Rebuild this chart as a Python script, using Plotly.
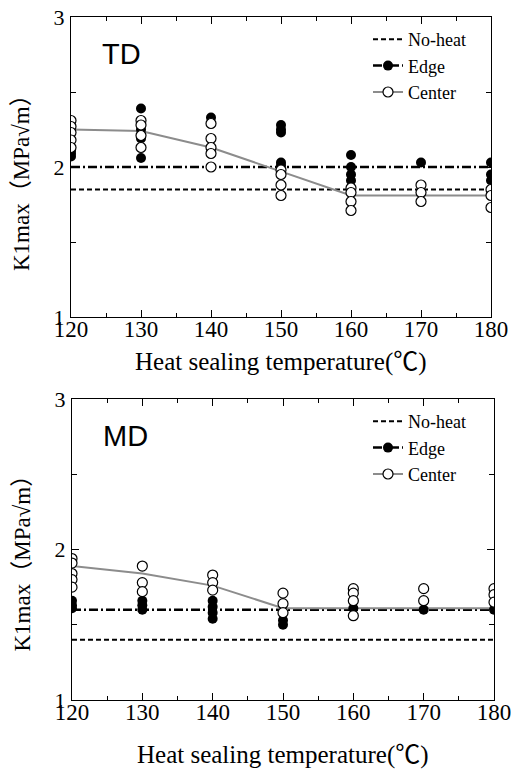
import plotly.graph_objects as go

# ---------------- data ----------------
temps = [120, 130, 140, 150, 160, 170, 180]

td_noheat = 1.85
td_edge_mean = 2.0
td_center_mean = [2.25, 2.24, 2.13, 1.97, 1.81, 1.81, 1.81]
td_edge_pts = [
    [2.09, 2.07, 2.11],
    [2.39, 2.25, 2.19, 2.06],
    [2.33, 2.0],
    [2.28, 2.25, 2.23, 2.03, 2.01],
    [2.08, 2.0, 1.95, 1.91],
    [2.03],
    [2.03, 1.95, 1.91],
]
td_center_pts = [
    [2.31, 2.27, 2.23, 2.18, 2.13],
    [2.31, 2.28, 2.21, 2.13],
    [2.29, 2.19, 2.13, 2.09, 2.0],
    [1.98, 1.95, 1.88, 1.81],
    [1.86, 1.83, 1.77, 1.71],
    [1.88, 1.83, 1.77],
    [1.85, 1.81, 1.73],
]

md_noheat = 1.4
md_edge_mean = 1.6
md_center_mean = [1.89, 1.84, 1.76, 1.61, 1.61, 1.61, 1.61]
md_edge_pts = [
    [1.66, 1.63, 1.61],
    [1.66, 1.63, 1.60],
    [1.66, 1.62, 1.58, 1.54],
    [1.53, 1.50],
    [1.61],
    [1.60],
    [1.60],
]
md_center_pts = [
    [1.94, 1.91, 1.84, 1.80, 1.75],
    [1.89, 1.78, 1.72],
    [1.83, 1.78, 1.73],
    [1.71, 1.64, 1.58],
    [1.74, 1.71, 1.66, 1.56],
    [1.74, 1.66],
    [1.74, 1.70, 1.65],
]

panel_labels = ["TD", "MD"]
series_names = ["No-heat", "Edge", "Center"]
x_title = "Heat sealing temperature(℃)"
y_title = "K1max（MPa√m）"
x_ticks = [120, 130, 140, 150, 160, 170, 180]
y_ticks = [1, 2, 3]

# ---------------- figure ----------------
W, H = 512, 771
SERIF = "Liberation Serif"
SERIF_CJK = "Liberation Serif, Noto Sans CJK JP"
SANS = "Liberation Sans"
GRAY = "#8c8c8c"
CLEAR = "rgba(0,0,0,0)"


def flat(pts):
    xs, ys = [], []
    for t, vals in zip(temps, pts):
        for v in vals:
            xs.append(t)
            ys.append(v)
    return xs, ys


fig = go.Figure()

panels = [
    dict(noheat=td_noheat, edge=td_edge_mean, cmean=td_center_mean,
         epts=td_edge_pts, cpts=td_center_pts, xa="x", ya="y", leg="legend"),
    dict(noheat=md_noheat, edge=md_edge_mean, cmean=md_center_mean,
         epts=md_edge_pts, cpts=md_center_pts, xa="x2", ya="y2", leg="legend2"),
]

# leading gap point (not drawn) carries the legend marker style; all drawn
# markers on the mean lines are transparent
n = len(temps)
lead_x = [None] + temps
for p in panels:
    ex, ey = flat(p["epts"])
    cx, cy = flat(p["cpts"])
    # No-heat reference line
    fig.add_trace(go.Scatter(
        x=[temps[0], temps[-1]], y=[p["noheat"]] * 2, mode="lines",
        name=series_names[0], legend=p["leg"],
        line=dict(color="black", width=2, dash="5px,3px"),
        xaxis=p["xa"], yaxis=p["ya"]))
    # Edge mean line (legend shows line + filled marker)
    fig.add_trace(go.Scatter(
        x=lead_x, y=[None] + [p["edge"]] * n, mode="lines+markers",
        name=series_names[1], legend=p["leg"],
        line=dict(color="black", width=2.5, dash="9px,3px,2px,3px"),
        marker=dict(size=10, color=["black"] + [CLEAR] * n, symbol="circle",
                    line=dict(width=0)),
        xaxis=p["xa"], yaxis=p["ya"]))
    # Center mean line (legend shows gray line + open marker)
    fig.add_trace(go.Scatter(
        x=lead_x, y=[None] + p["cmean"], mode="lines+markers",
        name=series_names[2], legend=p["leg"],
        line=dict(color=GRAY, width=2),
        marker=dict(size=10, color=["white"] + [CLEAR] * n, symbol="circle",
                    line=dict(color=["black"] + [CLEAR] * n, width=1.2)),
        xaxis=p["xa"], yaxis=p["ya"]))
    # Edge points
    fig.add_trace(go.Scatter(
        x=ex, y=ey, mode="markers", showlegend=False,
        marker=dict(size=10, color="black", line=dict(width=0)),
        xaxis=p["xa"], yaxis=p["ya"]))
    # Center points
    fig.add_trace(go.Scatter(
        x=cx, y=cy, mode="markers", showlegend=False,
        marker=dict(size=10, color="white", line=dict(color="black", width=1.2)),
        xaxis=p["xa"], yaxis=p["ya"]))

# panel geometry (pixels)
top_box = dict(l=71, r=491, t=17, b=317, xt=45, yt=10, leg=21)
bot_box = dict(l=72, r=494, t=399, b=700, xt=55, yt=8, leg=403)


def xdom(b):
    return [b["l"] / W, b["r"] / W]


def ydom(b):
    return [(H - b["b"]) / H, (H - b["t"]) / H]


def xaxis_cfg(box, anchor):
    return dict(
        domain=xdom(box), anchor=anchor, range=[120, 180], automargin=False,
        tickvals=x_ticks, ticktext=[str(v) for v in x_ticks],
        ticks="inside", ticklen=7, tickwidth=1, tickcolor="black",
        minor=dict(dtick=5, tick0=120, ticks="inside", ticklen=4, tickcolor="black", tickwidth=1),
        showline=True, linecolor="black", linewidth=1.2, mirror="allticks",
        showgrid=False, zeroline=False,
        tickfont=dict(family=SERIF, size=23, color="black"),
        ticklabelstandoff=-9,
    )


def yaxis_cfg(box, anchor):
    return dict(
        domain=ydom(box), anchor=anchor, range=[1, 3], automargin=False,
        tickvals=y_ticks, ticktext=[str(v) for v in y_ticks],
        ticks="inside", ticklen=7, tickwidth=1, tickcolor="black",
        minor=dict(dtick=0.5, tick0=1, ticks="inside", ticklen=5, tickcolor="black", tickwidth=1),
        showline=True, linecolor="black", linewidth=1.2, mirror="allticks",
        showgrid=False, zeroline=False,
        tickfont=dict(family=SERIF, size=22, color="black"),
        ticklabelstandoff=1,
    )


def legend_cfg(box_top_px):
    return dict(
        x=368 / W, xanchor="left",
        y=(H - box_top_px) / H, yanchor="top",
        bgcolor="rgba(0,0,0,0)", borderwidth=0,
        font=dict(family=SERIF, size=18, color="black"),
        tracegroupgap=0, itemwidth=30,
    )


annotations = []
for label, box in zip(panel_labels, [top_box, bot_box]):
    annotations.append(dict(
        text=label, x=(box["l"] + 29) / W, y=(H - box["t"] - 37) / H,
        xref="paper", yref="paper", xanchor="left", yanchor="middle",
        showarrow=False, font=dict(family=SANS, size=29, color="black")))
    annotations.append(dict(
        text=x_title, x=((box["l"] + box["r"]) / 2) / W, y=(H - box["b"] - box["xt"]) / H,
        xref="paper", yref="paper", xanchor="center", yanchor="middle",
        showarrow=False, font=dict(family=SERIF_CJK, size=25, color="black")))
    annotations.append(dict(
        text=y_title, x=22 / W, y=(H - (box["t"] + box["b"]) / 2 - box["yt"]) / H,
        xref="paper", yref="paper", xanchor="center", yanchor="middle",
        textangle=-90, showarrow=False,
        font=dict(family=SERIF_CJK, size=23, color="black")))

fig.update_layout(
    width=W, height=H,
    margin=dict(l=0, r=0, t=0, b=0, pad=0, autoexpand=False),
    paper_bgcolor="white", plot_bgcolor="white",
    xaxis=xaxis_cfg(top_box, "y"), yaxis=yaxis_cfg(top_box, "x"),
    xaxis2=xaxis_cfg(bot_box, "y2"), yaxis2=yaxis_cfg(bot_box, "x2"),
    legend=legend_cfg(top_box["leg"]),
    legend2=legend_cfg(bot_box["leg"]),
    annotations=annotations,
    showlegend=True,
)

fig.write_html("out.html")
